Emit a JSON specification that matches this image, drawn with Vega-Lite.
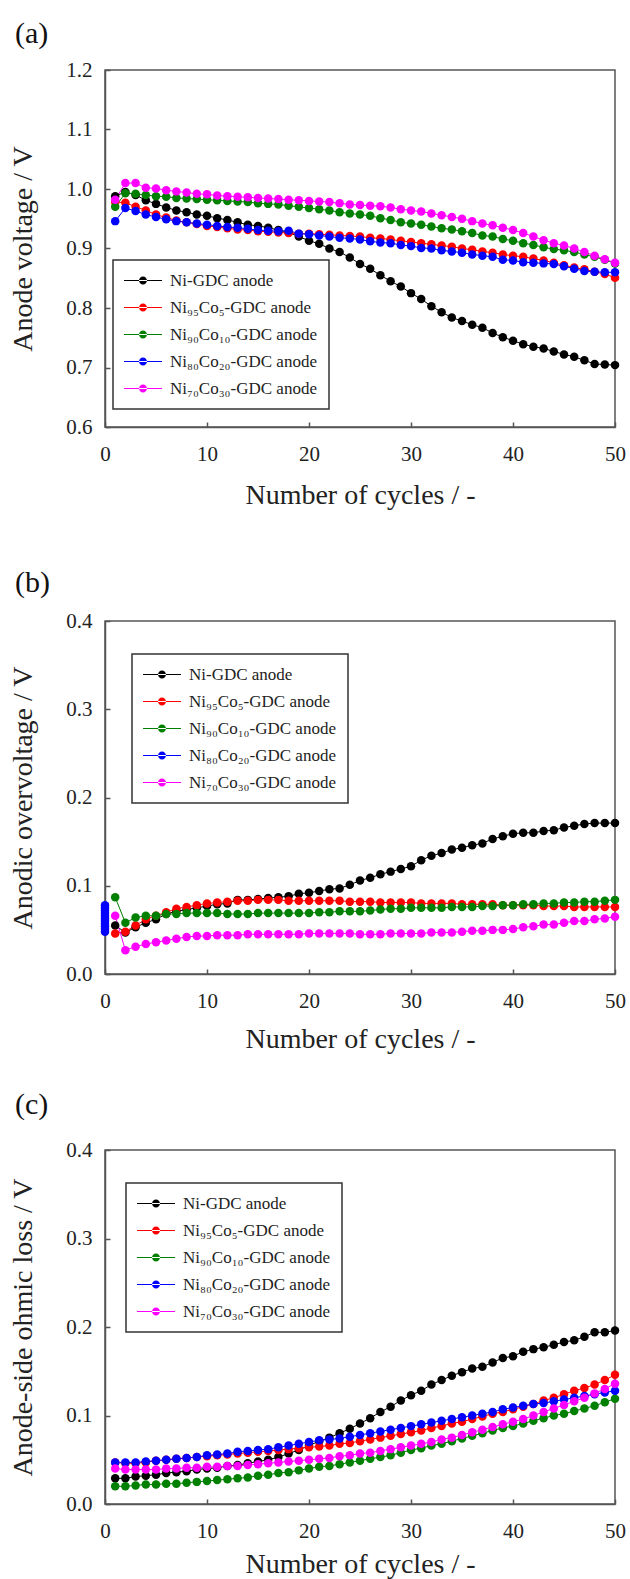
{
"$schema": "https://vega.github.io/schema/vega-lite/v6.json",
"autosize": "none",
"padding": {"left": 105, "top": 70, "right": 525, "bottom": 1509},
"background": "white",
"config": {
  "view": {"stroke": "#555", "strokeWidth": 1.5},
  "axis": {"labelFont": "Liberation Serif", "labelFontSize": 21, "labelColor": "#222", "titleFont": "Liberation Serif", "titleFontSize": 28, "titleFontWeight": "normal", "titleColor": "#222", "domainColor": "#555", "domainWidth": 1.5, "tickColor": "#555", "tickWidth": 1.5, "tickSize": -5, "grid": false, "labelFlush": false, "labelOverlap": false},
  "legend": {"symbolType": "M-4.75,-0.125L4.75,-0.125L4.75,0.125L-4.75,0.125Z M-1,0A1,1 0 1,0 1,0A1,1 0 1,0 -1,0Z", "symbolSize": 64, "symbolStrokeWidth": 0, "rowPadding": 9, "padding": 12, "strokeColor": "#333", "strokeWidth": 1.5, "fillColor": "white", "labelFont": "Liberation Serif", "labelFontSize": 17, "labelColor": "#222", "labelLimit": 300, "symbolOpacity": 1},
  "title": {"font": "Liberation Serif", "fontSize": 30, "fontWeight": "normal", "color": "#111", "anchor": "start", "frame": "group", "baseline": "middle"}
},
"datasets": {
"a": [
{"c":1,"K":0.988,"R":0.978,"G":0.970,"B":0.946,"M":0.982},
{"c":2,"K":0.995,"R":0.977,"G":0.993,"B":0.968,"M":1.010},
{"c":3,"K":0.990,"R":0.970,"G":0.992,"B":0.963,"M":1.010},
{"c":4,"K":0.981,"R":0.964,"G":0.990,"B":0.957,"M":1.002},
{"c":5,"K":0.975,"R":0.957,"G":0.988,"B":0.953,"M":1.001},
{"c":6,"K":0.969,"R":0.952,"G":0.987,"B":0.949,"M":0.998},
{"c":7,"K":0.964,"R":0.947,"G":0.985,"B":0.946,"M":0.996},
{"c":8,"K":0.961,"R":0.944,"G":0.984,"B":0.944,"M":0.994},
{"c":9,"K":0.957,"R":0.941,"G":0.983,"B":0.942,"M":0.992},
{"c":10,"K":0.955,"R":0.938,"G":0.982,"B":0.940,"M":0.991},
{"c":11,"K":0.951,"R":0.936,"G":0.981,"B":0.938,"M":0.989},
{"c":12,"K":0.948,"R":0.934,"G":0.980,"B":0.936,"M":0.988},
{"c":13,"K":0.944,"R":0.932,"G":0.979,"B":0.935,"M":0.987},
{"c":14,"K":0.940,"R":0.931,"G":0.978,"B":0.933,"M":0.986},
{"c":15,"K":0.938,"R":0.929,"G":0.976,"B":0.931,"M":0.985},
{"c":16,"K":0.935,"R":0.928,"G":0.975,"B":0.930,"M":0.984},
{"c":17,"K":0.931,"R":0.927,"G":0.974,"B":0.929,"M":0.983},
{"c":18,"K":0.927,"R":0.926,"G":0.972,"B":0.930,"M":0.982},
{"c":19,"K":0.920,"R":0.925,"G":0.970,"B":0.925,"M":0.981},
{"c":20,"K":0.913,"R":0.925,"G":0.968,"B":0.924,"M":0.980},
{"c":21,"K":0.908,"R":0.924,"G":0.966,"B":0.922,"M":0.979},
{"c":22,"K":0.900,"R":0.923,"G":0.964,"B":0.920,"M":0.978},
{"c":23,"K":0.894,"R":0.922,"G":0.961,"B":0.918,"M":0.976},
{"c":24,"K":0.885,"R":0.921,"G":0.959,"B":0.917,"M":0.974},
{"c":25,"K":0.874,"R":0.920,"G":0.957,"B":0.915,"M":0.973},
{"c":26,"K":0.866,"R":0.918,"G":0.955,"B":0.912,"M":0.972},
{"c":27,"K":0.855,"R":0.917,"G":0.951,"B":0.910,"M":0.971},
{"c":28,"K":0.845,"R":0.915,"G":0.948,"B":0.909,"M":0.969},
{"c":29,"K":0.836,"R":0.913,"G":0.944,"B":0.906,"M":0.966},
{"c":30,"K":0.825,"R":0.911,"G":0.942,"B":0.904,"M":0.964},
{"c":31,"K":0.815,"R":0.909,"G":0.940,"B":0.901,"M":0.962},
{"c":32,"K":0.803,"R":0.907,"G":0.937,"B":0.900,"M":0.959},
{"c":33,"K":0.793,"R":0.905,"G":0.934,"B":0.897,"M":0.956},
{"c":34,"K":0.784,"R":0.903,"G":0.932,"B":0.895,"M":0.953},
{"c":35,"K":0.778,"R":0.900,"G":0.929,"B":0.893,"M":0.950},
{"c":36,"K":0.772,"R":0.898,"G":0.926,"B":0.890,"M":0.946},
{"c":37,"K":0.767,"R":0.895,"G":0.922,"B":0.888,"M":0.942},
{"c":38,"K":0.758,"R":0.893,"G":0.920,"B":0.886,"M":0.939},
{"c":39,"K":0.751,"R":0.890,"G":0.916,"B":0.881,"M":0.935},
{"c":40,"K":0.745,"R":0.888,"G":0.913,"B":0.880,"M":0.931},
{"c":41,"K":0.739,"R":0.886,"G":0.909,"B":0.877,"M":0.926},
{"c":42,"K":0.735,"R":0.883,"G":0.906,"B":0.876,"M":0.920},
{"c":43,"K":0.732,"R":0.880,"G":0.902,"B":0.875,"M":0.914},
{"c":44,"K":0.727,"R":0.876,"G":0.899,"B":0.874,"M":0.909},
{"c":45,"K":0.722,"R":0.872,"G":0.897,"B":0.870,"M":0.905},
{"c":46,"K":0.718,"R":0.868,"G":0.894,"B":0.866,"M":0.900},
{"c":47,"K":0.712,"R":0.865,"G":0.890,"B":0.862,"M":0.894},
{"c":48,"K":0.706,"R":0.861,"G":0.886,"B":0.861,"M":0.888},
{"c":49,"K":0.705,"R":0.857,"G":0.881,"B":0.860,"M":0.882},
{"c":50,"K":0.704,"R":0.851,"G":0.875,"B":0.860,"M":0.876}
],
"b": [
{"c":0,"B":0.078},{"c":0,"B":0.075},{"c":0,"B":0.072},{"c":0,"B":0.069},{"c":0,"B":0.066},{"c":0,"B":0.063},{"c":0,"B":0.060},{"c":0,"B":0.057},{"c":0,"B":0.054},{"c":0,"B":0.051},{"c":0,"B":0.048},
{"c":1,"K":0.055,"R":0.046,"G":0.087,"M":0.066},
{"c":2,"K":0.047,"R":0.048,"G":0.058,"M":0.027},
{"c":3,"K":0.053,"R":0.055,"G":0.064,"M":0.031},
{"c":4,"K":0.058,"R":0.062,"G":0.066,"M":0.034},
{"c":5,"K":0.062,"R":0.066,"G":0.066,"M":0.036},
{"c":6,"K":0.068,"R":0.070,"G":0.068,"M":0.038},
{"c":7,"K":0.071,"R":0.074,"G":0.068,"M":0.040},
{"c":8,"K":0.073,"R":0.076,"G":0.069,"M":0.042},
{"c":9,"K":0.075,"R":0.078,"G":0.069,"M":0.043},
{"c":10,"K":0.077,"R":0.080,"G":0.069,"M":0.043},
{"c":11,"K":0.079,"R":0.081,"G":0.069,"M":0.044},
{"c":12,"K":0.080,"R":0.082,"G":0.068,"M":0.044},
{"c":13,"K":0.084,"R":0.083,"G":0.068,"M":0.044},
{"c":14,"K":0.084,"R":0.083,"G":0.068,"M":0.045},
{"c":15,"K":0.085,"R":0.084,"G":0.069,"M":0.045},
{"c":16,"K":0.086,"R":0.084,"G":0.069,"M":0.045},
{"c":17,"K":0.087,"R":0.084,"G":0.069,"M":0.045},
{"c":18,"K":0.088,"R":0.083,"G":0.069,"M":0.045},
{"c":19,"K":0.091,"R":0.083,"G":0.069,"M":0.045},
{"c":20,"K":0.092,"R":0.083,"G":0.069,"M":0.046},
{"c":21,"K":0.094,"R":0.083,"G":0.070,"M":0.046},
{"c":22,"K":0.096,"R":0.083,"G":0.070,"M":0.046},
{"c":23,"K":0.097,"R":0.083,"G":0.071,"M":0.046},
{"c":24,"K":0.101,"R":0.082,"G":0.071,"M":0.046},
{"c":25,"K":0.106,"R":0.082,"G":0.071,"M":0.045},
{"c":26,"K":0.109,"R":0.082,"G":0.072,"M":0.045},
{"c":27,"K":0.113,"R":0.081,"G":0.073,"M":0.045},
{"c":28,"K":0.116,"R":0.081,"G":0.074,"M":0.046},
{"c":29,"K":0.119,"R":0.081,"G":0.074,"M":0.046},
{"c":30,"K":0.122,"R":0.081,"G":0.075,"M":0.046},
{"c":31,"K":0.129,"R":0.080,"G":0.075,"M":0.046},
{"c":32,"K":0.134,"R":0.080,"G":0.075,"M":0.047},
{"c":33,"K":0.137,"R":0.080,"G":0.075,"M":0.047},
{"c":34,"K":0.141,"R":0.080,"G":0.076,"M":0.047},
{"c":35,"K":0.143,"R":0.079,"G":0.076,"M":0.048},
{"c":36,"K":0.146,"R":0.079,"G":0.076,"M":0.049},
{"c":37,"K":0.148,"R":0.079,"G":0.077,"M":0.049},
{"c":38,"K":0.153,"R":0.079,"G":0.077,"M":0.050},
{"c":39,"K":0.156,"R":0.078,"G":0.078,"M":0.050},
{"c":40,"K":0.159,"R":0.078,"G":0.078,"M":0.051},
{"c":41,"K":0.160,"R":0.078,"G":0.079,"M":0.053},
{"c":42,"K":0.160,"R":0.078,"G":0.079,"M":0.054},
{"c":43,"K":0.162,"R":0.077,"G":0.080,"M":0.056},
{"c":44,"K":0.163,"R":0.077,"G":0.080,"M":0.056},
{"c":45,"K":0.166,"R":0.077,"G":0.081,"M":0.058},
{"c":46,"K":0.168,"R":0.076,"G":0.081,"M":0.060},
{"c":47,"K":0.170,"R":0.076,"G":0.082,"M":0.060},
{"c":48,"K":0.171,"R":0.076,"G":0.082,"M":0.062},
{"c":49,"K":0.171,"R":0.076,"G":0.083,"M":0.063},
{"c":50,"K":0.171,"R":0.076,"G":0.084,"M":0.065}
],
"c": [
{"c":1,"K":0.029,"R":0.047,"G":0.020,"B":0.047,"M":0.040},
{"c":2,"K":0.029,"R":0.046,"G":0.020,"B":0.047,"M":0.039},
{"c":3,"K":0.031,"R":0.046,"G":0.021,"B":0.047,"M":0.039},
{"c":4,"K":0.032,"R":0.047,"G":0.022,"B":0.048,"M":0.039},
{"c":5,"K":0.033,"R":0.049,"G":0.022,"B":0.049,"M":0.039},
{"c":6,"K":0.035,"R":0.050,"G":0.023,"B":0.050,"M":0.040},
{"c":7,"K":0.036,"R":0.051,"G":0.023,"B":0.051,"M":0.040},
{"c":8,"K":0.037,"R":0.052,"G":0.024,"B":0.052,"M":0.041},
{"c":9,"K":0.039,"R":0.053,"G":0.025,"B":0.053,"M":0.041},
{"c":10,"K":0.040,"R":0.054,"G":0.026,"B":0.055,"M":0.042},
{"c":11,"K":0.041,"R":0.055,"G":0.027,"B":0.056,"M":0.042},
{"c":12,"K":0.043,"R":0.056,"G":0.028,"B":0.057,"M":0.043},
{"c":13,"K":0.044,"R":0.057,"G":0.029,"B":0.059,"M":0.043},
{"c":14,"K":0.046,"R":0.058,"G":0.030,"B":0.060,"M":0.044},
{"c":15,"K":0.048,"R":0.059,"G":0.032,"B":0.061,"M":0.045},
{"c":16,"K":0.050,"R":0.060,"G":0.033,"B":0.062,"M":0.046},
{"c":17,"K":0.053,"R":0.061,"G":0.035,"B":0.064,"M":0.047},
{"c":18,"K":0.057,"R":0.062,"G":0.036,"B":0.066,"M":0.048},
{"c":19,"K":0.061,"R":0.063,"G":0.038,"B":0.068,"M":0.049},
{"c":20,"K":0.066,"R":0.064,"G":0.040,"B":0.070,"M":0.050},
{"c":21,"K":0.071,"R":0.065,"G":0.042,"B":0.072,"M":0.051},
{"c":22,"K":0.075,"R":0.066,"G":0.043,"B":0.073,"M":0.052},
{"c":23,"K":0.080,"R":0.068,"G":0.045,"B":0.074,"M":0.054},
{"c":24,"K":0.085,"R":0.069,"G":0.047,"B":0.076,"M":0.055},
{"c":25,"K":0.091,"R":0.071,"G":0.049,"B":0.078,"M":0.057},
{"c":26,"K":0.097,"R":0.073,"G":0.051,"B":0.080,"M":0.058},
{"c":27,"K":0.104,"R":0.075,"G":0.053,"B":0.082,"M":0.060},
{"c":28,"K":0.110,"R":0.077,"G":0.055,"B":0.084,"M":0.062},
{"c":29,"K":0.117,"R":0.079,"G":0.058,"B":0.086,"M":0.064},
{"c":30,"K":0.123,"R":0.081,"G":0.061,"B":0.088,"M":0.066},
{"c":31,"K":0.128,"R":0.083,"G":0.063,"B":0.090,"M":0.068},
{"c":32,"K":0.135,"R":0.086,"G":0.066,"B":0.092,"M":0.070},
{"c":33,"K":0.140,"R":0.088,"G":0.068,"B":0.094,"M":0.073},
{"c":34,"K":0.145,"R":0.091,"G":0.071,"B":0.096,"M":0.075},
{"c":35,"K":0.149,"R":0.093,"G":0.074,"B":0.098,"M":0.078},
{"c":36,"K":0.153,"R":0.096,"G":0.077,"B":0.100,"M":0.081},
{"c":37,"K":0.155,"R":0.099,"G":0.080,"B":0.102,"M":0.084},
{"c":38,"K":0.160,"R":0.102,"G":0.083,"B":0.104,"M":0.087},
{"c":39,"K":0.165,"R":0.104,"G":0.086,"B":0.107,"M":0.090},
{"c":40,"K":0.167,"R":0.107,"G":0.088,"B":0.109,"M":0.093},
{"c":41,"K":0.172,"R":0.110,"G":0.091,"B":0.111,"M":0.096},
{"c":42,"K":0.175,"R":0.113,"G":0.094,"B":0.113,"M":0.100},
{"c":43,"K":0.177,"R":0.117,"G":0.097,"B":0.114,"M":0.104},
{"c":44,"K":0.180,"R":0.120,"G":0.100,"B":0.116,"M":0.108},
{"c":45,"K":0.183,"R":0.124,"G":0.102,"B":0.118,"M":0.112},
{"c":46,"K":0.185,"R":0.128,"G":0.105,"B":0.120,"M":0.116},
{"c":47,"K":0.189,"R":0.131,"G":0.108,"B":0.122,"M":0.120},
{"c":48,"K":0.194,"R":0.135,"G":0.111,"B":0.124,"M":0.125},
{"c":49,"K":0.194,"R":0.140,"G":0.115,"B":0.126,"M":0.130},
{"c":50,"K":0.196,"R":0.146,"G":0.119,"B":0.128,"M":0.136}
]
},
"spacing": 194,
"bounds": "flush",
"resolve": {"scale": {"color": "independent", "stroke": "independent", "x": "independent", "y": "independent"}, "legend": {"color": "independent"}},
"vconcat": [
{
  "width": 510, "height": 357,
  "title": {"text": "(a)", "dx": -90, "offset": 10},
  "data": {"name": "a"},
  "transform": [{"fold": ["K", "R", "G", "B", "M"], "as": ["s", "v"]}, {"filter": "isValid(datum.v)"}],
  "encoding": {
    "x": {"field": "c", "type": "quantitative", "scale": {"domain": [0, 50], "nice": false}, "axis": {"values": [0, 10, 20, 30, 40, 50], "labelPadding": 21, "title": "Number of cycles / -", "titleY": 68, "titleBaseline": "middle"}},
    "y": {"field": "v", "type": "quantitative", "scale": {"domain": [0.6, 1.2], "nice": false, "zero": false}, "axis": {"values": [0.6, 0.7, 0.8, 0.9, 1.0, 1.1, 1.2], "format": ".1f", "labelPadding": 18, "title": "Anode voltage / V", "titleX": -82, "titleBaseline": "middle"}}
  },
  "layer": [
    {"mark": {"type": "line", "strokeWidth": 1}, "encoding": {"stroke": {"field": "s", "type": "nominal", "scale": {"domain": ["M", "B", "G", "R", "K"], "range": ["#ff00ff", "#0000ff", "#008000", "#ff0000", "#000000"]}, "legend": null}}},
    {"mark": {"type": "circle", "size": 72, "opacity": 1}, "encoding": {"color": {"field": "s", "type": "nominal", "scale": {"domain": ["K", "R", "G", "B", "M"], "range": ["#000000", "#ff0000", "#008000", "#0000ff", "#ff00ff"]},
      "legend": {"title": null, "orient": "none", "legendX": 8, "legendY": 190, "symbolSize": 64, "labelFont": "Liberation Serif", "labelFontSize": 17,
        "labelExpr": "datum.label == 'K' ? 'Ni-GDC anode' : datum.label == 'R' ? 'Ni₉₅Co₅-GDC anode' : datum.label == 'G' ? 'Ni₉₀Co₁₀-GDC anode' : datum.label == 'B' ? 'Ni₈₀Co₂₀-GDC anode' : 'Ni₇₀Co₃₀-GDC anode'",
        "encode": {"symbols": {"update": {"x": {"value": 18}, "size": {"value": 64}}}, "labels": {"update": {"x": {"value": 45}, "font": {"value": "Liberation Serif"}}}}}}}}
  ]
},
{
  "spacing": 176,
  "bounds": "flush",
  "resolve": {"scale": {"color": "independent", "stroke": "independent", "x": "independent", "y": "independent"}, "legend": {"color": "independent"}},
  "vconcat": [
  {
    "width": 510, "height": 353,
    "title": {"text": "(b)", "dx": -90, "offset": 12},
    "data": {"name": "b"},
    "transform": [{"fold": ["K", "R", "G", "B", "M"], "as": ["s", "v"]}, {"filter": "isValid(datum.v)"}],
    "encoding": {
      "x": {"field": "c", "type": "quantitative", "scale": {"domain": [0, 50], "nice": false}, "axis": {"values": [0, 10, 20, 30, 40, 50], "labelPadding": 21, "title": "Number of cycles / -", "titleY": 65, "titleBaseline": "middle"}},
      "y": {"field": "v", "type": "quantitative", "scale": {"domain": [0, 0.4], "nice": false}, "axis": {"values": [0, 0.1, 0.2, 0.3, 0.4], "format": ".1f", "labelPadding": 18, "title": "Anodic overvoltage / V", "titleX": -82, "titleBaseline": "middle"}}
    },
    "layer": [
      {"mark": {"type": "line", "strokeWidth": 1}, "encoding": {"stroke": {"field": "s", "type": "nominal", "scale": {"domain": ["M", "B", "G", "R", "K"], "range": ["#ff00ff", "#0000ff", "#008000", "#ff0000", "#000000"]}, "legend": null}}},
      {"mark": {"type": "circle", "size": 72, "opacity": 1}, "encoding": {"color": {"field": "s", "type": "nominal", "scale": {"domain": ["K", "R", "G", "B", "M"], "range": ["#000000", "#ff0000", "#008000", "#0000ff", "#ff00ff"]},
        "legend": {"title": null, "orient": "none", "legendX": 27, "legendY": 33, "symbolSize": 64, "labelFont": "Liberation Serif", "labelFontSize": 17,
          "labelExpr": "datum.label == 'K' ? 'Ni-GDC anode' : datum.label == 'R' ? 'Ni₉₅Co₅-GDC anode' : datum.label == 'G' ? 'Ni₉₀Co₁₀-GDC anode' : datum.label == 'B' ? 'Ni₈₀Co₂₀-GDC anode' : 'Ni₇₀Co₃₀-GDC anode'",
          "encode": {"symbols": {"update": {"x": {"value": 18}, "size": {"value": 64}}}, "labels": {"update": {"x": {"value": 45}, "font": {"value": "Liberation Serif"}}}}}}}}
    ]
  },
  {
    "width": 510, "height": 354,
    "title": {"text": "(c)", "dx": -90, "offset": 19},
    "data": {"name": "c"},
    "transform": [{"fold": ["K", "R", "G", "B", "M"], "as": ["s", "v"]}, {"filter": "isValid(datum.v)"}],
    "encoding": {
      "x": {"field": "c", "type": "quantitative", "scale": {"domain": [0, 50], "nice": false}, "axis": {"values": [0, 10, 20, 30, 40, 50], "labelPadding": 21, "title": "Number of cycles / -", "titleY": 60, "titleBaseline": "middle"}},
      "y": {"field": "v", "type": "quantitative", "scale": {"domain": [0, 0.4], "nice": false}, "axis": {"values": [0, 0.1, 0.2, 0.3, 0.4], "format": ".1f", "labelPadding": 18, "title": "Anode-side ohmic loss / V", "titleX": -82, "titleBaseline": "middle"}}
    },
    "layer": [
      {"mark": {"type": "line", "strokeWidth": 1}, "encoding": {"stroke": {"field": "s", "type": "nominal", "scale": {"domain": ["M", "B", "G", "R", "K"], "range": ["#ff00ff", "#0000ff", "#008000", "#ff0000", "#000000"]}, "legend": null}}},
      {"mark": {"type": "circle", "size": 72, "opacity": 1}, "encoding": {"color": {"field": "s", "type": "nominal", "scale": {"domain": ["K", "R", "G", "B", "M"], "range": ["#000000", "#ff0000", "#008000", "#0000ff", "#ff00ff"]},
        "legend": {"title": null, "orient": "none", "legendX": 21, "legendY": 33, "symbolSize": 64, "labelFont": "Liberation Serif", "labelFontSize": 17,
          "labelExpr": "datum.label == 'K' ? 'Ni-GDC anode' : datum.label == 'R' ? 'Ni₉₅Co₅-GDC anode' : datum.label == 'G' ? 'Ni₉₀Co₁₀-GDC anode' : datum.label == 'B' ? 'Ni₈₀Co₂₀-GDC anode' : 'Ni₇₀Co₃₀-GDC anode'",
          "encode": {"symbols": {"update": {"x": {"value": 18}, "size": {"value": 64}}}, "labels": {"update": {"x": {"value": 45}, "font": {"value": "Liberation Serif"}}}}}}}}
    ]
  }
  ]
}
]
}
